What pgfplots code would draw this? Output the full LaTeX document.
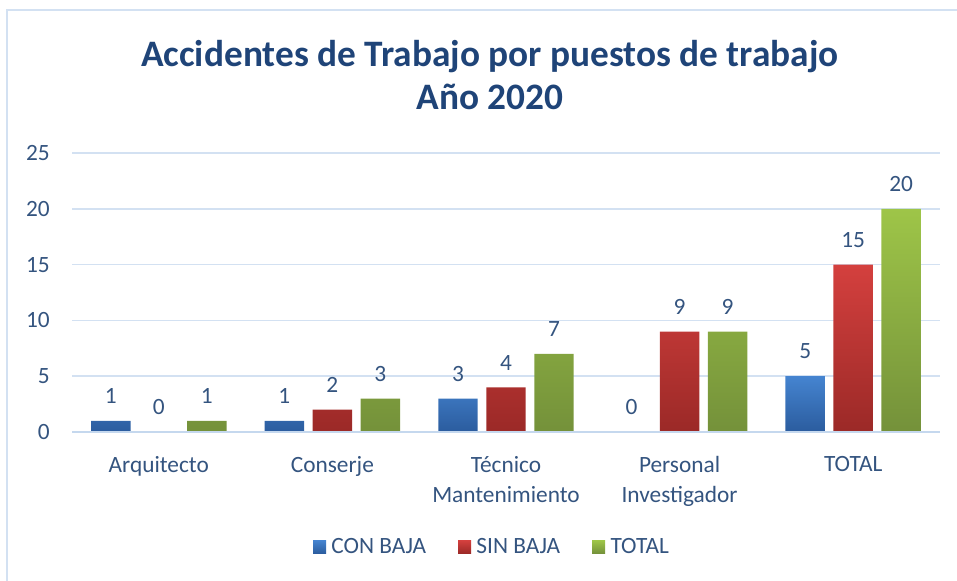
\documentclass[border=0pt]{standalone}
\usepackage{fontspec}
\setmainfont{Carlito}
\usepackage{pgfplots}
\pgfplotsset{compat=1.18}

\definecolor{titlecol}{HTML}{1F4478}
\definecolor{labcol}{HTML}{34547F}
\definecolor{gridcol}{HTML}{D3E1F2}
\definecolor{basecol}{HTML}{C5D8EE}
\definecolor{bluetop}{HTML}{4584D0}
\definecolor{bluebot}{HTML}{2B5C9E}
\definecolor{redtop}{HTML}{D4403E}
\definecolor{redbot}{HTML}{9B2927}
\definecolor{greentop}{HTML}{9EC548}
\definecolor{greenbot}{HTML}{74913A}

\newcommand{\lab}{\fontsize{17.5}{22.5}\selectfont}

\begin{document}
\begin{tikzpicture}
\useasboundingbox (0pt,0pt) rectangle (717.75pt,435.75pt);
% chart frame (only left and top edges are inside the picture)
\draw[gridcol, line width=1.1pt] (5.25pt,-20pt) -- (5.25pt,428.25pt) -- (760pt,428.25pt);

\node[anchor=base, font=\fontsize{28}{32}\selectfont\bfseries, text=titlecol] at (367.5pt,385.5pt) {Accidentes de Trabajo por puestos de trabajo};
\node[anchor=base, font=\fontsize{28}{32}\selectfont\bfseries, text=titlecol] at (367.5pt,353.25pt) {Año 2020};

\begin{axis}[
    at={(54pt,111.75pt)}, anchor=south west,
    scale only axis,
    width=651pt, height=209.25pt,
    ybar=6.4pt, bar width=29.6pt,
    xmin=-0.5, xmax=4.5,
    ymin=0, ymax=25,
    xtick={0,1,2,3,4},
    xticklabels={Arquitecto,Conserje,{Técnico\\Mantenimiento},{Personal\\Investigador},TOTAL},
    ytick={0,5,10,15,20,25},
    major tick length=0pt,
    axis x line*=bottom, axis y line*=left,
    x axis line style={basecol, line width=1.6pt},
    y axis line style={draw=none},
    ymajorgrids=true,
    grid style={gridcol, line width=1.1pt},
    /pgf/number format/assume math mode=true,
    yticklabel style={anchor=east, inner sep=0pt, xshift=-16.5pt, font=\lab, text=labcol},
    xticklabel style={anchor=north, align=center, inner sep=0pt, yshift=-18pt, font=\lab, text=labcol},
    nodes near coords,
    every node near coord/.append style={anchor=south, inner sep=0pt, yshift=12.8pt, font=\lab, text=labcol},
    legend columns=-1,
    legend style={at={(0.4827,-0.412)}, anchor=center, draw=none, fill=none,
        /tikz/every odd column/.style={column sep=4pt},
        /tikz/every even column/.style={column sep=24pt},
        nodes={inner sep=0pt, font=\lab, text=labcol}},
    legend image code/.code={\fill[#1] (0pt,-4.9pt) rectangle (9.75pt,4.9pt);},
]
\addplot[draw=none, top color=bluetop, bottom color=bluebot] coordinates {
    (0,1) (1,1) (2,3) (3,0) (4,5)
};
\addplot[draw=none, top color=redtop, bottom color=redbot] coordinates {
    (0,0) (1,2) (2,4) (3,9) (4,15)
};
\addplot[draw=none, top color=greentop, bottom color=greenbot] coordinates {
    (0,1) (1,3) (2,7) (3,9) (4,20)
};
\legend{CON BAJA, SIN BAJA, TOTAL}
% base line redrawn over the empty bars
\draw[basecol, line width=1.6pt] (axis cs:-0.5,0) -- (axis cs:4.5,0);
\end{axis}
\end{tikzpicture}
\end{document}
